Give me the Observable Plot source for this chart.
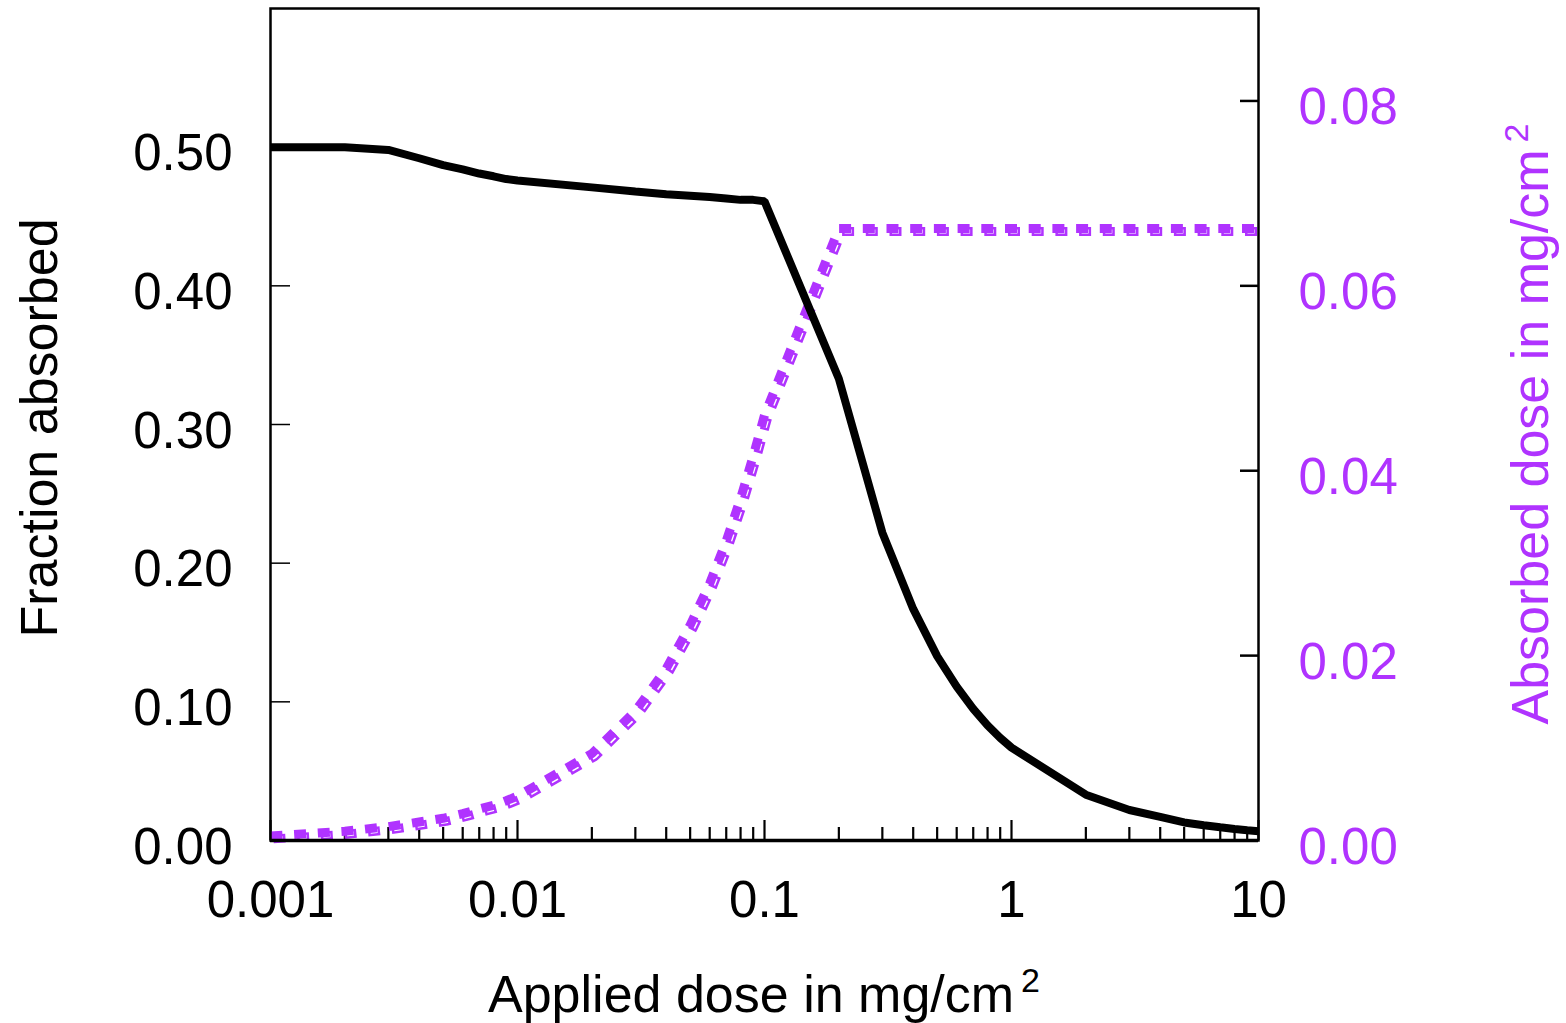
<!DOCTYPE html>
<html>
<head>
<meta charset="utf-8">
<script src="https://cdn.jsdelivr.net/npm/d3@7"></script>
<script src="https://cdn.jsdelivr.net/npm/@observablehq/plot@0.6"></script>
<style>
  html, body { margin: 0; padding: 0; background: #fff; }
  #chart svg { display: block; }
</style>
</head>
<body>
<div id="chart"></div>
<script>
// Applied dose (mg/cm²)
const applied = [0.001, 0.002, 0.003, 0.004, 0.005, 0.006, 0.007, 0.008, 0.009,
                 0.01, 0.02, 0.03, 0.04, 0.05, 0.06, 0.07, 0.08, 0.09,
                 0.1, 0.2, 0.3, 0.4, 0.5, 0.6, 0.7, 0.8, 0.9,
                 1, 2, 3, 4, 5, 6, 7, 8, 9, 10];
// Fraction absorbed (left axis)
const fraction = [0.500, 0.500, 0.498, 0.492, 0.487, 0.484, 0.481, 0.479, 0.477,
                  0.476, 0.471, 0.468, 0.466, 0.465, 0.464, 0.463, 0.462, 0.462,
                  0.461, 0.333, 0.222, 0.167, 0.133, 0.111, 0.095, 0.083, 0.074,
                  0.067, 0.033, 0.022, 0.017, 0.013, 0.011, 0.0095, 0.0083, 0.0074, 0.0067];
// Absorbed dose in mg/cm² (right axis)
const absorbed = [0.0005, 0.0010, 0.0015, 0.0020, 0.0024, 0.0029, 0.0034, 0.0038, 0.0043,
                  0.0048, 0.0094, 0.0140, 0.0186, 0.0233, 0.0278, 0.0324, 0.0370, 0.0416,
                  0.0460, 0.0662, 0.0662, 0.0662, 0.0662, 0.0662, 0.0662, 0.0662, 0.0662,
                  0.0662, 0.0662, 0.0662, 0.0662, 0.0662, 0.0662, 0.0662, 0.0662, 0.0662, 0.0662];

const leftTicks = [0.00, 0.10, 0.20, 0.30, 0.40, 0.50];
const rightTicks = [0.00, 0.02, 0.04, 0.06, 0.08];
const xMajor = [0.001, 0.01, 0.1, 1, 10];
const xMajorLabels = ["0.001", "0.01", "0.1", "1", "10"];
const xMinor = [0.002,0.003,0.004,0.005,0.006,0.007,0.008,0.009,
                0.02,0.03,0.04,0.05,0.06,0.07,0.08,0.09,
                0.2,0.3,0.4,0.5,0.6,0.7,0.8,0.9,
                2,3,4,5,6,7,8,9];

const leftDomain = [0, 0.6];
const rightDomain = [0, 0.09];
const k = (leftDomain[1] - leftDomain[0]) / (rightDomain[1] - rightDomain[0]);

const purple = "#b033ff";
const fracData = applied.map((x, i) => ({x, y: fraction[i]}));
const absData = applied.map((x, i) => ({x, y: absorbed[i] * k}));

const W = 1566, H = 1023;
const mL = 270, mR = 308, mT = 8, mB = 183;
const fw = W - mL - mR, fh = H - mT - mB;

const chart = Plot.plot({
  width: W, height: H,
  marginLeft: mL, marginRight: mR, marginTop: mT, marginBottom: mB,
  style: {fontFamily: "'Liberation Sans', Arial, sans-serif", background: "white", overflow: "visible"},
  x: {type: "log", domain: [0.001, 10]},
  y: {domain: leftDomain},
  marks: [
    Plot.axisY(leftTicks, {anchor: "left", tickSize: 0, tickPadding: 38, fontSize: 51, fill: "black", dy: 7,
      tickFormat: d3.format(".2f"), label: null}),
    Plot.tickY(leftTicks.slice(1), {y: d => d, insetRight: fw - 20, stroke: "black", strokeWidth: 1.5}),
    Plot.axisY(rightTicks.map(v => v * k), {anchor: "right", tickSize: 0, tickPadding: 40, fontSize: 51, fill: purple, dy: 7,
      tickFormat: d => d3.format(".2f")(d / k), label: null}),
    Plot.tickY(rightTicks.slice(1).map(v => v * k), {y: d => d, insetLeft: fw - 18, stroke: "black", strokeWidth: 2.5}),
    Plot.axisX(xMajor, {anchor: "bottom", tickSize: 0, tickPadding: 40, fontSize: 51, fill: "black",
      tickFormat: d => xMajorLabels[xMajor.indexOf(d)], label: null}),
    Plot.tickX(xMajor, {x: d => d, insetTop: fh - 20, stroke: "black", strokeWidth: 2.2}),
    Plot.tickX(xMinor, {x: d => d, insetTop: fh - 13, stroke: "black", strokeWidth: 2.2}),
    // purple dotted series: offset outline copy, then filled copy
    Plot.line(absData, {x: "x", y: "y", stroke: purple, strokeWidth: 9, strokeDasharray: "12,11.7",
      strokeLinecap: "butt", dx: 3, dy: 3}),
    Plot.line(absData, {x: "x", y: "y", stroke: "white", strokeWidth: 4, strokeDasharray: "7,16.7",
      strokeDashoffset: -2.5, strokeLinecap: "butt", dx: 3, dy: 3}),
    Plot.line(absData, {x: "x", y: "y", stroke: purple, strokeWidth: 9, strokeDasharray: "12,11.7",
      strokeLinecap: "butt"}),
    Plot.line(fracData, {x: "x", y: "y", stroke: "black", strokeWidth: 8, strokeLinejoin: "miter", strokeLinecap: "butt"}),
    Plot.frame({stroke: "black", strokeWidth: 2.5}),
    Plot.ruleY([0], {stroke: "black", strokeWidth: 3.5})
  ]
});

document.getElementById("chart").appendChild(chart);

// Axis titles with superscripts
const svg = d3.select(chart);
const font = "'Liberation Sans', Arial, sans-serif";

// bottom title
const xt = svg.append("text")
  .attr("x", mL + fw / 2).attr("y", 1012)
  .attr("text-anchor", "middle")
  .attr("font-family", font).attr("font-size", 52).attr("fill", "black");
xt.append("tspan").text("Applied dose in mg/cm");
xt.append("tspan").attr("font-size", 34).attr("dx", 7).attr("dy", -20).text("2");

// left title
svg.append("text")
  .attr("transform", `translate(57,${428}) rotate(-90)`)
  .attr("text-anchor", "middle")
  .attr("font-family", font).attr("font-size", 52).attr("fill", "black")
  .text("Fraction absorbed");

// right title
const rt = svg.append("text")
  .attr("transform", `translate(1548,${424}) rotate(-90)`)
  .attr("text-anchor", "middle")
  .attr("font-family", font).attr("font-size", 52).attr("fill", purple);
rt.append("tspan").text("Absorbed dose in mg/cm");
rt.append("tspan").attr("font-size", 34).attr("dx", 7).attr("dy", -20).text("2");
</script>
</body>
</html>
